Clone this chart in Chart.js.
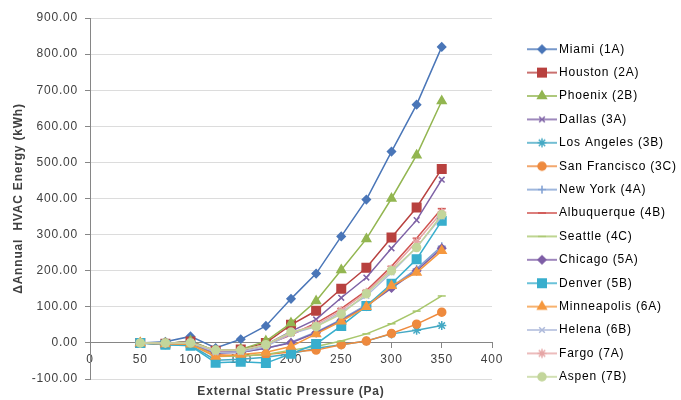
<!DOCTYPE html>
<html>
<head>
<meta charset="utf-8">
<script src="https://cdn.jsdelivr.net/npm/chart.js@4"></script>
<style>
  html, body { margin: 0; padding: 0; background: #fff; }
  #wrap { width: 681px; height: 400px; position: relative; }
</style>
</head>
<body>
<div id="wrap"><canvas id="chart"></canvas></div>
<script>
const pressures = [50, 75, 100, 125, 150, 175, 200, 225, 250, 275, 300, 325, 350];

const cities = [
  "Miami (1A)", "Houston (2A)", "Phoenix (2B)", "Dallas (3A)", "Los Angeles (3B)",
  "San Francisco (3C)", "New York (4A)", "Albuquerque (4B)", "Seattle (4C)", "Chicago (5A)",
  "Denver (5B)", "Minneapolis (6A)", "Helena (6B)", "Fargo (7A)", "Aspen (7B)"
];

const miami        = [0, 3, 18, -14, 10, 47, 122, 192, 295, 397, 530, 660, 820];
const houston      = [0, -2, 4, -22, -18, 0, 50, 89, 150, 208, 292, 375, 482];
const phoenix      = [0, -2, 5, -22, -18, 5, 55, 116, 202, 288, 400, 520, 670];
const dallas       = [0, -2, 3, -25, -22, -5, 32, 65, 125, 181, 262, 340, 452];
const losAngeles   = [0, -5, -6, -48, -45, -40, -30, -15, -5, 5, 25, 35, 48];
const sanFrancisco = [0, -3, -2, -32, -36, -32, -25, -20, -5, 5, 26, 52, 85];
const newYork      = [0, -3, 0, -28, -26, -15, 2, 30, 65, 105, 155, 205, 268];
const albuquerque  = [0, -2, 2, -22, -20, -5, 22, 55, 95, 145, 212, 290, 372];
const seattle      = [0, -3, -2, -38, -36, -32, -20, -10, 5, 25, 53, 88, 130];
const chicago      = [0, -3, 0, -28, -26, -15, 0, 28, 62, 102, 152, 200, 262];
const denver       = [0, -5, -8, -55, -52, -56, -30, -3, 47, 102, 164, 232, 338];
const minneapolis  = [0, -3, -4, -38, -32, -26, -10, 25, 60, 100, 158, 195, 255];
const helena       = [0, -2, 0, -26, -25, -10, 25, 45, 85, 130, 195, 265, 350];
const fargo        = [0, -2, 2, -22, -20, -5, 28, 50, 90, 140, 205, 280, 362];
const aspen        = [0, 0, 0, -20, -20, -5, 30, 45, 80, 136, 200, 264, 355];

const yTicks = [-100, 0, 100, 200, 300, 400, 500, 600, 700, 800, 900];
const xTicks = [0, 50, 100, 150, 200, 250, 300, 350, 400];

const seriesValues = [miami, houston, phoenix, dallas, losAngeles, sanFrancisco, newYork,
  albuquerque, seattle, chicago, denver, minneapolis, helena, fargo, aspen];

// look of each series (colour, marker, marker radius)
const styles = [
  { color: '#4A76B8', marker: 'rectRot', r: 4 },
  { color: '#B8413F', marker: 'rect', r: 6 },
  { color: '#93B651', marker: 'triangle', r: 5 },
  { color: '#7E62A6', marker: 'crossRot', r: 4 },
  { color: '#45A9C4', marker: 'star', r: 4.5 },
  { color: '#EE8A3E', marker: 'circle', r: 4 },
  { color: '#7F9FD2', marker: 'cross', r: 4 },
  { color: '#D05451', marker: 'line', r: 4 },
  { color: '#A8C76C', marker: 'line', r: 4 },
  { color: '#7E5EA6', marker: 'rectRot', r: 4 },
  { color: '#38AECD', marker: 'rect', r: 6 },
  { color: '#F5983F', marker: 'triangle', r: 5 },
  { color: '#AEBADB', marker: 'crossRot', r: 4 },
  { color: '#E6A6A6', marker: 'star', r: 4.5 },
  { color: '#C3D69B', marker: 'circle', r: 4 }
];

Chart.defaults.font.family = '"Liberation Sans", Arial, sans-serif';
Chart.defaults.font.size = 12;
Chart.defaults.color = '#404040';

// small line + marker picture for the legend
function legendSwatch(st) {
  const c = document.createElement('canvas');
  c.width = 34;
  c.height = 14;
  const ctx = c.getContext('2d');
  ctx.strokeStyle = st.color;
  ctx.fillStyle = st.color;
  ctx.lineWidth = 1.5;
  ctx.beginPath();
  ctx.moveTo(4, 7);
  ctx.lineTo(34, 7);
  ctx.stroke();
  Chart.helpers.drawPoint(ctx, { pointStyle: st.marker, radius: st.r, rotation: 0, borderWidth: 1.5 }, 19, 7);
  return c;
}

const datasets = seriesValues.map((vals, i) => ({
  label: cities[i],
  data: vals.map((v, j) => ({ x: pressures[j], y: v })),
  borderColor: styles[i].color,
  backgroundColor: styles[i].color,
  pointBackgroundColor: styles[i].color,
  pointBorderColor: styles[i].color,
  pointStyle: styles[i].marker,
  pointRadius: styles[i].r,
  pointBorderWidth: 1.5,
  borderWidth: 1.5,
  tension: 0,
  order: seriesValues.length - i
}));

const textSpacing = {
  id: 'textSpacing',
  beforeUpdate(chart) { chart.ctx.letterSpacing = '0.8px'; },
  beforeDraw(chart) { chart.ctx.letterSpacing = '0.8px'; }
};

// put the legend where the original has it
const legendPlace = {
  id: 'legendPlace',
  afterLayout(chart) {
    const lg = chart.legend;
    lg.left = 515.6;
    lg.right = chart.width;
    lg.width = lg.right - lg.left;
    lg.top += 4;
    lg.bottom += 4;
  }
};

new Chart(document.getElementById('chart'), {
  type: 'line',
  data: { datasets: datasets },
  plugins: [textSpacing, legendPlace],
  options: {
    responsive: true,
    maintainAspectRatio: false,
    animation: false,
    layout: { padding: { top: 18, right: 39, bottom: 0, left: 0 } },
    plugins: {
      legend: {
        position: 'right',
        maxWidth: 150,
        labels: {
          usePointStyle: true,
          pointStyleWidth: 26,
          padding: 11.4,
          color: '#404040',
          font: { size: 12 },
          generateLabels: chart => chart.data.datasets.map((ds, i) => ({
            text: ds.label,
            pointStyle: legendSwatch(styles[i]),
            fillStyle: styles[i].color,
            strokeStyle: styles[i].color,
            lineWidth: 0,
            hidden: false,
            datasetIndex: i
          }))
        }
      },
      title: {
        display: true,
        position: 'bottom',
        fullSize: false,
        text: 'External Static Pressure (Pa)',
        color: '#404040',
        font: { size: 12, weight: 'bold' },
        padding: { top: 5, bottom: 1.6 }
      },
      tooltip: { enabled: false }
    },
    scales: {
      x: {
        type: 'linear',
        position: { y: 0 },
        min: 0,
        max: 400,
        afterBuildTicks: scale => { scale.ticks = xTicks.map(v => ({ value: v })); },
        ticks: { padding: 5, color: '#404040', callback: v => String(v) },
        grid: { drawOnChartArea: false, tickLength: 5, tickColor: '#868686' },
        border: { color: '#868686', width: 1 }
      },
      y: {
        min: -100,
        max: 900,
        afterBuildTicks: scale => { scale.ticks = yTicks.map(v => ({ value: v })); },
        afterFit: scale => { scale.width = 90; },
        ticks: { padding: 7, color: '#404040', callback: v => Number(v).toFixed(2) },
        grid: { color: '#dcdcdc', tickLength: 5, tickColor: '#868686' },
        border: { color: '#868686', width: 1 },
        title: {
          display: true,
          text: '\u0394Annual  HVAC Energy (kWh)',
          color: '#404040',
          font: { size: 12, weight: 'bold' },
          padding: { top: 11, bottom: 0 }
        }
      }
    }
  }
});
</script>
</body>
</html>
